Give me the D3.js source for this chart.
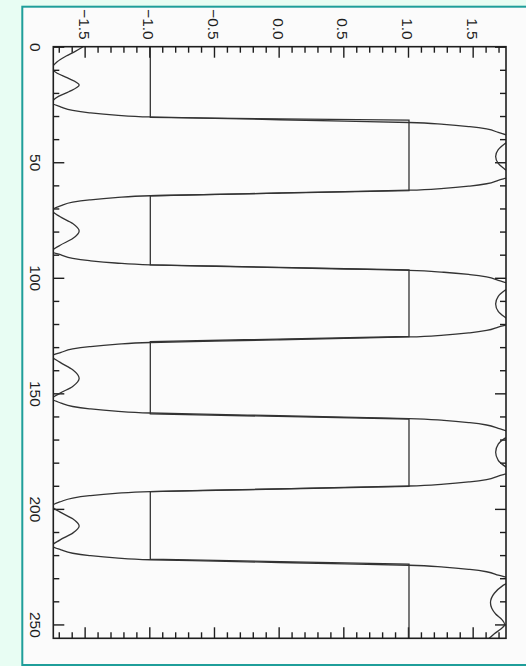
<!DOCTYPE html>
<html><head><meta charset="utf-8">
<script src="https://cdn.jsdelivr.net/npm/d3@7"></script>
<style>
html,body{margin:0;padding:0;background:#e8fdf3;}
svg{display:block;}
</style></head>
<body>
<svg id="chart" width="526" height="666"></svg>
<script>
// ---- data ----
const curveX = [0,2,4,6.5,9.4,11.5,13.5,16.6,19.5,21.5,24.3,
  26.1,27.6,28.6,29.6,30.4,31.0,31.6,32.2,32.8,33.6,34.6,35.6,37.1,39.7,
  42,44.5,47.5,50.5,53,55.6,
  57.8,59.3,60.3,61.3,62.1,62.7,63.3,63.9,64.5,65.3,66.3,67.3,68.8,70.8,
  73.5,76.5,79.7,83,86,88.6,
  90.1,91.6,92.6,93.6,94.4,95.0,95.6,96.2,96.8,97.6,98.6,99.6,101.1,103.4,
  105.5,108,111.3,114.5,117,119.3,
  121.3,122.8,123.8,124.8,125.6,126.2,126.8,127.4,128.0,128.8,129.8,130.8,132.3,133.8,
  136.5,139.8,143.5,147,150,152.4,
  154.2,155.7,156.7,157.7,158.5,159.1,159.7,160.3,160.9,161.7,162.7,163.7,165.2,167.5,
  169.5,172,175.5,179,181.5,183.6,
  185.8,187.3,188.3,189.3,190.1,190.7,191.3,191.9,192.5,193.3,194.3,195.3,196.8,198.8,
  201.3,204.3,207.4,210.5,213.5,216,
  217.7,219.2,220.2,221.2,222.0,222.6,223.2,223.8,224.4,225.2,226.2,227.2,228.7,230.6,
  233,236.5,240.6,243,245.5,248,250,252,254,256];
const curveY = [-1.52,-1.58,-1.65,-1.72,-1.76,-1.72,-1.64,-1.55,-1.63,-1.71,-1.76,
  -1.69,-1.60,-1.47,-1.27,-1.0,-0.5,0,0.5,1.0,1.27,1.47,1.6,1.69,1.8,
  1.74,1.69,1.67,1.69,1.74,1.8,
  1.69,1.6,1.47,1.27,1.0,0.5,0,-0.5,-1.0,-1.27,-1.47,-1.6,-1.69,-1.76,
  -1.70,-1.60,-1.55,-1.60,-1.70,-1.76,
  -1.69,-1.60,-1.47,-1.27,-1.0,-0.5,0,0.5,1.0,1.27,1.47,1.6,1.69,1.8,
  1.74,1.69,1.67,1.69,1.74,1.8,
  1.69,1.6,1.47,1.27,1.0,0.5,0,-0.5,-1.0,-1.27,-1.47,-1.6,-1.69,-1.76,
  -1.70,-1.60,-1.55,-1.60,-1.70,-1.76,
  -1.69,-1.60,-1.47,-1.27,-1.0,-0.5,0,0.5,1.0,1.27,1.47,1.6,1.69,1.8,
  1.74,1.69,1.67,1.69,1.74,1.8,
  1.69,1.6,1.47,1.27,1.0,0.5,0,-0.5,-1.0,-1.27,-1.47,-1.6,-1.69,-1.76,
  -1.70,-1.60,-1.55,-1.60,-1.70,-1.76,
  -1.69,-1.60,-1.47,-1.27,-1.0,-0.5,0,0.5,1.0,1.27,1.47,1.6,1.69,1.8,
  1.73,1.66,1.63,1.64,1.67,1.72,1.74,1.71,1.66,1.62];
const squareX = [0,30.6,31.8,62.3,64.5,94.4,96.6,125.4,127.6,158.9,161.1,190.3,192.5,221.7,223.9,256];
const squareY = [-1,-1,1,1,-1,-1,1,1,-1,-1,1,1,-1,-1,1,1];
const xMajorTicks = [0,50,100,150,200,250];
const xTickLabels = ["0","50","100","150","200","250"];
const yMajorTicks = [-1.5,-1.0,-0.5,0.0,0.5,1.0,1.5];
const yTickLabels = ["\u22121.5","\u22121.0","\u22120.5","0.0","0.5","1.0","1.5"];
const xMinorTicks = [10,20,30,40,60,70,80,90,110,120,130,140,160,170,180,190,210,220,230,240];
const yMinorTicks = [-1.7,-1.6,-1.4,-1.3,-1.2,-1.1,-0.9,-0.8,-0.7,-0.6,-0.4,-0.3,-0.2,-0.1,
  0.1,0.2,0.3,0.4,0.6,0.7,0.8,0.9,1.1,1.2,1.3,1.4,1.6,1.7];

// ---- drawing ----
const svg = d3.select("#chart");
svg.append("rect").attr("x",22.3).attr("y",6.7).attr("width",560).attr("height",658.3)
  .attr("fill","#fbfbfb").attr("stroke","#1f9e9a").attr("stroke-width",2);

const W = 591.6, H = 452.7;
// the whole plot is drawn in the usual orientation, then turned a quarter clockwise
const g = svg.append("g").attr("transform","translate(506,46.7) rotate(90)");
const x = d3.scaleLinear().domain([0,256]).range([0,W]);
const y = d3.scaleLinear().domain([-1.75,1.75]).range([H,0]);

g.append("clipPath").attr("id","clip").append("rect")
  .attr("x",0).attr("y",0).attr("width",W).attr("height",H);

const ink = "#1e1e1e";
const font = "'Liberation Sans', Arial, sans-serif";

function styleAxis(sel){
  sel.select(".domain").remove();
  sel.selectAll("line").attr("stroke",ink).attr("stroke-width",1.4);
  sel.selectAll("text").attr("fill",ink).style("font-family",font).style("font-size","15.5px");
}
// bottom (shown at left) with labels
g.append("g").attr("transform",`translate(0,${H})`)
  .call(d3.axisBottom(x).tickValues(xMajorTicks).tickSizeInner(-11).tickSizeOuter(0).tickPadding(12)
    .tickFormat((d,i)=>xTickLabels[i])).call(styleAxis);
g.append("g").attr("transform",`translate(0,${H})`)
  .call(d3.axisBottom(x).tickValues(xMinorTicks).tickSizeInner(-6).tickSizeOuter(0).tickFormat(""))
  .call(styleAxis);
// top (shown at right)
g.append("g")
  .call(d3.axisTop(x).tickValues(xMajorTicks).tickSizeInner(-11).tickSizeOuter(0).tickFormat(""))
  .call(styleAxis);
g.append("g")
  .call(d3.axisTop(x).tickValues(xMinorTicks).tickSizeInner(-6).tickSizeOuter(0).tickFormat(""))
  .call(styleAxis);
// left (shown at top) with labels
g.append("g")
  .call(d3.axisLeft(y).tickValues(yMajorTicks).tickSizeInner(-11).tickSizeOuter(0).tickPadding(7)
    .tickFormat((d,i)=>yTickLabels[i])).call(styleAxis)
  .selectAll("text").attr("dy","0.42em");
g.append("g")
  .call(d3.axisLeft(y).tickValues(yMinorTicks).tickSizeInner(-6).tickSizeOuter(0).tickFormat(""))
  .call(styleAxis);
// right (shown at bottom)
g.append("g").attr("transform",`translate(${W},0)`)
  .call(d3.axisRight(y).tickValues(yMajorTicks).tickSizeInner(-11).tickSizeOuter(0).tickFormat(""))
  .call(styleAxis);
g.append("g").attr("transform",`translate(${W},0)`)
  .call(d3.axisRight(y).tickValues(yMinorTicks).tickSizeInner(-6).tickSizeOuter(0).tickFormat(""))
  .call(styleAxis);

// square wave
const sq = squareX.map((v,i)=>[v,squareY[i]]);
g.append("path").datum(sq).attr("clip-path","url(#clip)")
  .attr("fill","none").attr("stroke","#333").attr("stroke-width",1.3)
  .attr("d",d3.line().x(d=>x(d[0])).y(d=>y(d[1])));

// reconstructed curve
const cv = curveX.map((v,i)=>[v,curveY[i]]);
g.append("path").datum(cv).attr("clip-path","url(#clip)")
  .attr("fill","none").attr("stroke","#333").attr("stroke-width",1.3)
  .attr("d",d3.line().curve(d3.curveMonotoneX).x(d=>x(d[0])).y(d=>y(d[1])));

// plot box
g.append("rect").attr("x",0).attr("y",0).attr("width",W).attr("height",H)
  .attr("fill","none").attr("stroke",ink).attr("stroke-width",1.6);
</script>
</body></html>
